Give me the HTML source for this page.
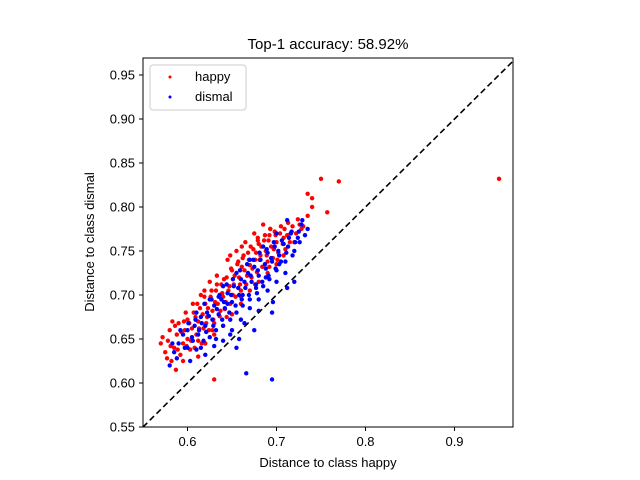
<!DOCTYPE html>
<html><head><meta charset="utf-8"><style>
body{margin:0;background:#fff;}
svg{display:block;font-family:"Liberation Sans","DejaVu Sans",sans-serif;}
</style></head><body>
<svg id="chart" width="640" height="480">
<text x="328" y="49" font-size="15" text-anchor="middle">Top-1 accuracy: 58.92%</text>
<g id="points"></g>
<line id="diag" stroke="#000" stroke-width="1.6" stroke-dasharray="6,3.5"/>
<rect x="143" y="58" width="370" height="369" fill="none" stroke="#000" stroke-width="1"/>
<g id="axes" font-size="13"></g>
<text x="328" y="467" font-size="13" text-anchor="middle">Distance to class happy</text>
<text transform="translate(94,242) rotate(-90)" font-size="13" text-anchor="middle">Distance to class dismal</text>
<g>
<rect x="150" y="65" width="96" height="45" rx="3" fill="#fff" stroke="#ccc"/>
<circle cx="170" cy="77" r="1.5" fill="red"/>
<text x="195" y="81" font-size="13">happy</text>
<circle cx="170" cy="97" r="1.5" fill="blue"/>
<text x="195" y="101" font-size="13">dismal</text>
</g>
</svg>
<script>
const xTicks=[0.6,0.7,0.8,0.9];
const yTicks=[0.55,0.60,0.65,0.70,0.75,0.80,0.85,0.90,0.95];
const happyX=[0.575,0.578,0.580,0.582,0.585,0.588,0.590,0.592,0.595,0.597,0.600,0.600,0.603,0.605,0.607,0.610,0.612,0.614,0.616,0.618,0.620,0.622,0.624,0.626,0.628,0.630,0.632,0.634,0.636,0.638,0.640,0.642,0.644,0.646,0.648,0.650,0.652,0.654,0.656,0.658,0.660,0.662,0.664,0.666,0.668,0.670,0.672,0.674,0.676,0.678,0.680,0.682,0.684,0.686,0.688,0.690,0.692,0.694,0.696,0.698,0.700,0.702,0.705,0.708,0.710,0.713,0.716,0.720,0.724,0.728,0.735,0.740,0.587,0.595,0.608,0.615,0.625,0.645,0.655,0.665,0.675,0.685,0.612,0.620,0.630,0.640,0.650,0.660,0.670,0.680,0.690,0.700,0.630,0.740,0.735,0.750,0.757,0.770,0.950,0.570,0.583,0.598,0.606,0.619,0.633,0.648,0.661,0.679,0.693];
const happyY=[0.635,0.648,0.660,0.625,0.640,0.655,0.668,0.632,0.645,0.660,0.672,0.650,0.638,0.662,0.680,0.655,0.670,0.685,0.645,0.662,0.690,0.675,0.660,0.698,0.682,0.668,0.705,0.690,0.676,0.712,0.698,0.684,0.720,0.705,0.690,0.728,0.712,0.698,0.735,0.720,0.705,0.742,0.728,0.712,0.748,0.734,0.720,0.752,0.740,0.726,0.758,0.745,0.732,0.762,0.750,0.738,0.768,0.755,0.742,0.772,0.760,0.748,0.778,0.765,0.752,0.782,0.770,0.760,0.786,0.775,0.790,0.800,0.615,0.625,0.640,0.700,0.715,0.740,0.750,0.760,0.770,0.780,0.630,0.645,0.655,0.665,0.678,0.690,0.705,0.715,0.725,0.735,0.604,0.810,0.815,0.832,0.794,0.829,0.832,0.645,0.670,0.680,0.690,0.705,0.722,0.745,0.755,0.765,0.775];
const happyX2=[0.572,0.577,0.581,0.586,0.589,0.593,0.596,0.599,0.602,0.604,0.609,0.611,0.613,0.617,0.619,0.621,0.623,0.627,0.629,0.631,0.633,0.637,0.639,0.641,0.643,0.647,0.649,0.651,0.653,0.657,0.659,0.661,0.663,0.667,0.669,0.671,0.673,0.677,0.679,0.681,0.683,0.687,0.689,0.691,0.693,0.697,0.699,0.701,0.704,0.707,0.709,0.712,0.715,0.718,0.722,0.726,0.730,0.612,0.628,0.644,0.660,0.676,0.692,0.708];
const happyY2=[0.652,0.628,0.642,0.665,0.638,0.658,0.670,0.642,0.668,0.648,0.675,0.690,0.662,0.678,0.698,0.668,0.685,0.705,0.672,0.692,0.712,0.682,0.702,0.718,0.692,0.710,0.730,0.700,0.722,0.738,0.712,0.732,0.745,0.722,0.740,0.755,0.730,0.748,0.762,0.740,0.755,0.768,0.745,0.762,0.775,0.752,0.768,0.740,0.770,0.758,0.775,0.768,0.760,0.778,0.770,0.780,0.778,0.648,0.660,0.675,0.698,0.712,0.732,0.745];
const dismalX=[0.580,0.585,0.590,0.595,0.600,0.603,0.605,0.608,0.610,0.613,0.615,0.618,0.620,0.622,0.625,0.628,0.630,0.632,0.635,0.638,0.640,0.642,0.645,0.648,0.650,0.652,0.655,0.658,0.660,0.662,0.665,0.668,0.670,0.672,0.675,0.678,0.680,0.682,0.685,0.688,0.690,0.692,0.695,0.698,0.700,0.703,0.706,0.710,0.713,0.716,0.720,0.724,0.728,0.732,0.735,0.640,0.650,0.660,0.670,0.680,0.690,0.700,0.710,0.620,0.630,0.655,0.675,0.695,0.720,0.695,0.666,0.600,0.610,0.625,0.640,0.655,0.670,0.685,0.700,0.712,0.635,0.645,0.662,0.677,0.688,0.703,0.718,0.726];
const dismalY=[0.620,0.635,0.645,0.655,0.640,0.625,0.652,0.665,0.638,0.660,0.675,0.648,0.665,0.680,0.652,0.672,0.688,0.660,0.678,0.695,0.665,0.685,0.702,0.672,0.692,0.710,0.680,0.700,0.718,0.688,0.708,0.725,0.695,0.715,0.732,0.702,0.722,0.740,0.710,0.730,0.748,0.718,0.738,0.755,0.728,0.745,0.762,0.738,0.755,0.770,0.750,0.765,0.780,0.768,0.775,0.648,0.660,0.672,0.685,0.695,0.705,0.715,0.725,0.632,0.642,0.640,0.660,0.680,0.715,0.604,0.611,0.660,0.680,0.695,0.710,0.725,0.740,0.755,0.770,0.785,0.698,0.690,0.700,0.712,0.720,0.735,0.745,0.760];
const dismalX2=[0.583,0.588,0.592,0.597,0.601,0.606,0.609,0.612,0.616,0.619,0.621,0.624,0.627,0.629,0.633,0.636,0.639,0.641,0.644,0.647,0.649,0.651,0.654,0.657,0.659,0.661,0.664,0.667,0.669,0.671,0.674,0.677,0.679,0.681,0.684,0.687,0.689,0.691,0.694,0.697,0.699,0.702,0.705,0.708,0.711,0.714,0.717,0.721,0.725,0.729,0.615,0.632,0.648,0.664,0.680,0.696,0.712,0.658];
const dismalY2=[0.645,0.628,0.660,0.640,0.668,0.648,0.672,0.655,0.668,0.690,0.658,0.676,0.695,0.665,0.684,0.700,0.672,0.692,0.712,0.680,0.700,0.718,0.688,0.708,0.728,0.695,0.715,0.735,0.700,0.722,0.740,0.708,0.728,0.748,0.715,0.735,0.752,0.722,0.742,0.760,0.730,0.750,0.738,0.758,0.748,0.765,0.772,0.760,0.772,0.785,0.640,0.650,0.655,0.668,0.682,0.692,0.708,0.650];

const X0=143,X1=513,Y0=427,Y1=58,DMIN=0.55,DMAXX=0.9657,DMAXY=0.9693;
function sx(v){return X0+(v-DMIN)/(DMAXX-DMIN)*(X1-X0);}
function sy(v){return Y0-(v-DMIN)/(DMAXY-DMIN)*(Y0-Y1);}
const NS="http://www.w3.org/2000/svg";
const pts=document.getElementById('points');
function drawSeries(xs,ys,color,name){
  const n=Math.min(xs.length,ys.length);
  for(let i=0;i<n;i++){
    const c=document.createElementNS(NS,'circle');
    c.setAttribute('cx',sx(xs[i]));c.setAttribute('cy',sy(ys[i]));
    c.setAttribute('r',2.2);c.setAttribute('fill',color);
    
    
    pts.appendChild(c);
  }
}
drawSeries(happyX,happyY,'red','happy-point');
drawSeries(happyX2,happyY2,'red','happy-point');
drawSeries(dismalX,dismalY,'blue','dismal-point');
drawSeries(dismalX2,dismalY2,'blue','dismal-point');
const d=document.getElementById('diag');
d.setAttribute('x1',sx(0.55));d.setAttribute('y1',sy(0.55));
d.setAttribute('x2',X1);d.setAttribute('y2',sy(DMAXX));
const ax=document.getElementById('axes');
xTicks.forEach(t=>{
  const x=sx(t);
  const l=document.createElementNS(NS,'line');
  l.setAttribute('x1',x);l.setAttribute('x2',x);l.setAttribute('y1',427);l.setAttribute('y2',431);l.setAttribute('stroke','#000');
  
  
  ax.appendChild(l);
  const tx=document.createElementNS(NS,'text');
  tx.setAttribute('x',x);tx.setAttribute('y',446);tx.setAttribute('text-anchor','middle');
  tx.textContent=t.toFixed(1);
  
  
  ax.appendChild(tx);
});
yTicks.forEach(t=>{
  const y=sy(t);
  const l=document.createElementNS(NS,'line');
  l.setAttribute('x1',139);l.setAttribute('x2',143);l.setAttribute('y1',y);l.setAttribute('y2',y);l.setAttribute('stroke','#000');
  
  
  ax.appendChild(l);
  const tx=document.createElementNS(NS,'text');
  tx.setAttribute('x',135);tx.setAttribute('y',y+4.5);tx.setAttribute('text-anchor','end');
  tx.textContent=t.toFixed(2);
  
  
  ax.appendChild(tx);
});
</script>
</body></html>
